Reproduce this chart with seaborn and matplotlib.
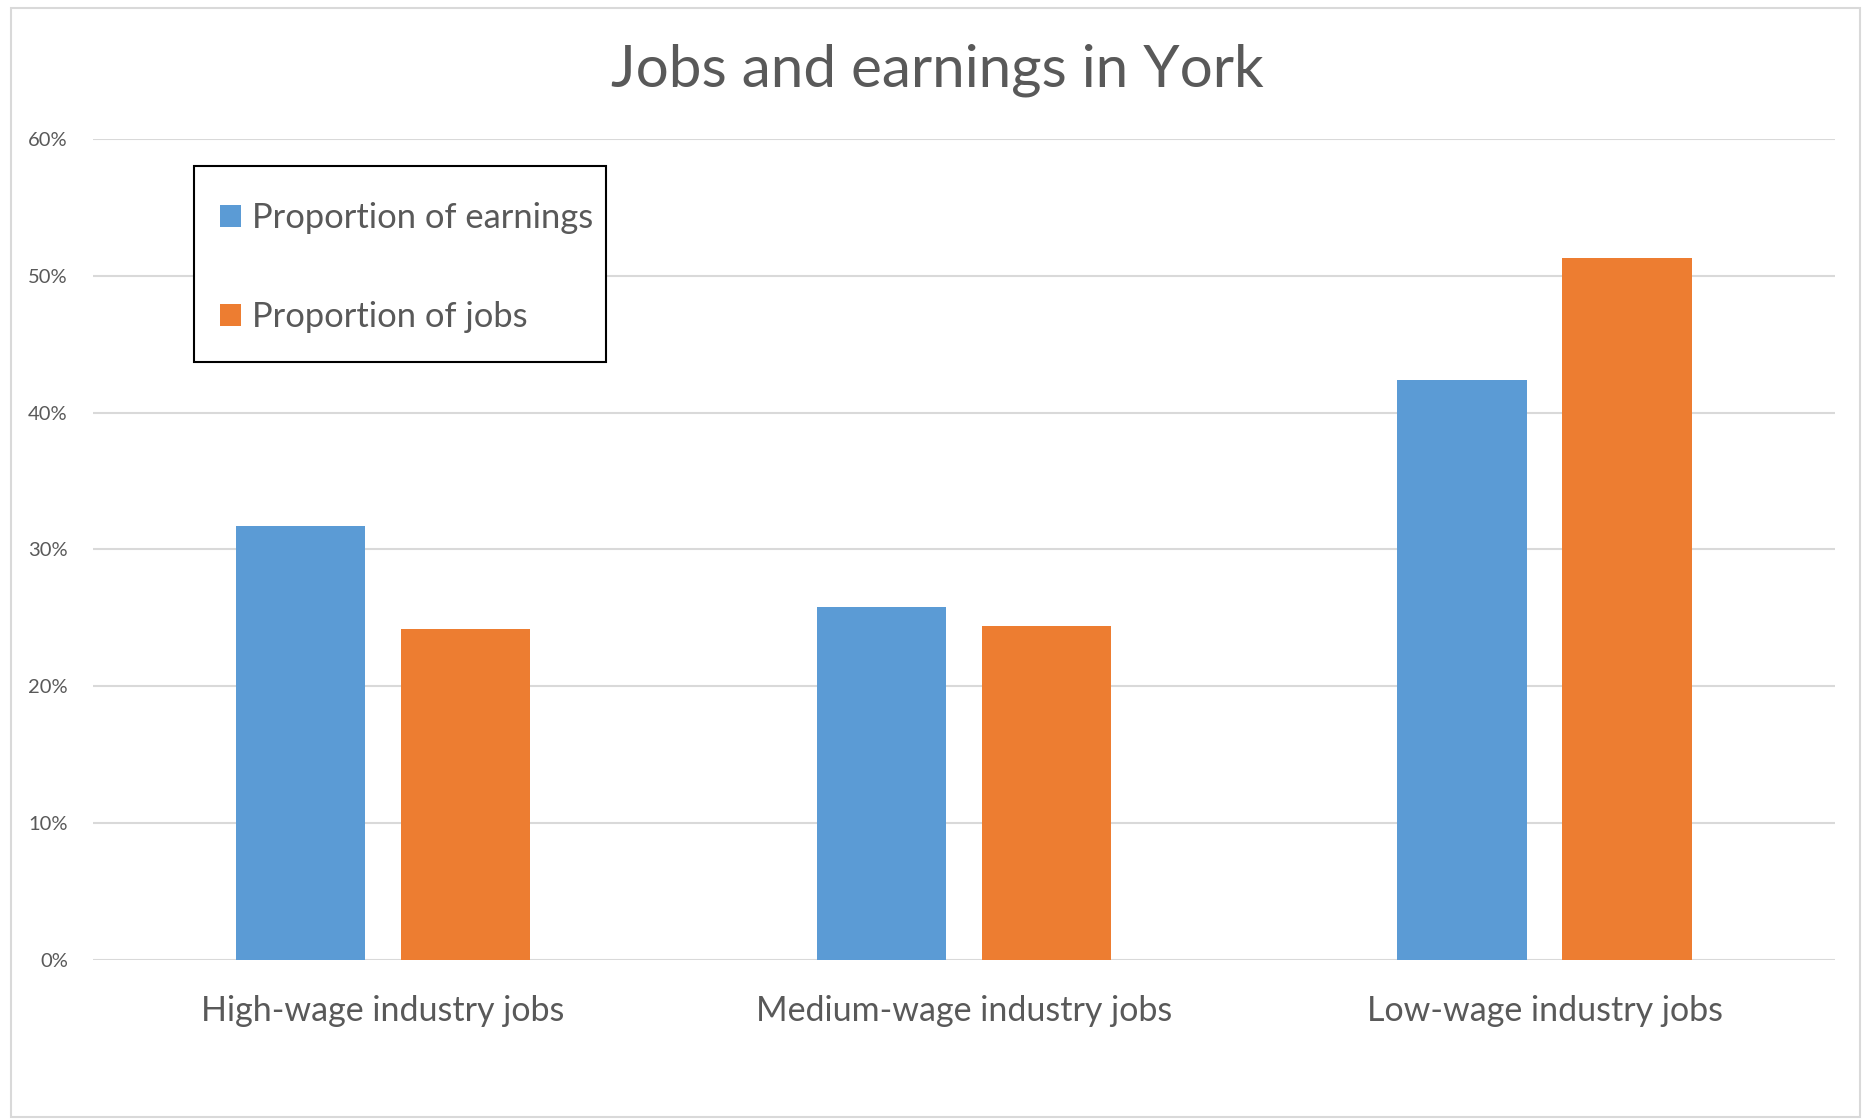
import matplotlib
matplotlib.use("Agg")
import matplotlib.pyplot as plt
import seaborn as sns
import pandas as pd
from matplotlib.patches import Rectangle, Patch
from matplotlib.ticker import FuncFormatter

categories = ["High-wage industry jobs", "Medium-wage industry jobs", "Low-wage industry jobs"]
series_names = ["Proportion of earnings", "Proportion of jobs"]
earnings = [31.7, 25.8, 42.4]
jobs = [24.2, 24.4, 51.3]
title = "Jobs and earnings in York"
yticks = [0, 10, 20, 30, 40, 50, 60]

df = pd.DataFrame({
    "category": categories * 2,
    "series": [series_names[0]] * 3 + [series_names[1]] * 3,
    "value": earnings + jobs,
})

sns.set_theme(style="white")
plt.rcParams["font.family"] = ["Lato", "DejaVu Sans"]
text_color = "#595959"
colors = ["#5B9BD5", "#ED7D31"]

fig = plt.figure(figsize=(18.63, 11.2), dpi=100)
fig.patch.set_facecolor("white")
ax = fig.add_axes([0.0498, 0.1429, 0.985 - 0.0498, 0.876 - 0.1429])

sns.barplot(data=df, x="category", y="value", hue="series", order=categories,
            hue_order=series_names, palette=colors, width=0.568, gap=0.215,
            saturation=1, ax=ax, legend=False, edgecolor="none", linewidth=0)

ax.set_ylim(0, 60)
ax.set_xlim(-0.5, 2.5)
ax.set_yticks(yticks)
ax.yaxis.set_major_formatter(FuncFormatter(lambda v, p: f"{int(v)}%"))
ax.grid(axis="y", color="#d9d9d9", linewidth=1.5)
ax.set_axisbelow(True)
for s in ax.spines.values():
    s.set_visible(False)
ax.tick_params(axis="y", labelsize=14.5, colors=text_color, length=0, pad=18)
ax.tick_params(axis="x", labelsize=24.5, colors=text_color, length=0, pad=25)
ax.set_xlabel("")
ax.set_ylabel("")

fig.text(0.503, 0.937, title, ha="center", va="center", fontsize=42, color=text_color)

# legend box
fig.patches.append(Rectangle((194 / 1863, 1 - 362 / 1120), 412 / 1863, 196 / 1120,
                             transform=fig.transFigure, fill=True, facecolor="white",
                             edgecolor="black", linewidth=1.5, zorder=5))

handles = [Patch(facecolor=c, edgecolor="none") for c in colors]
leg = fig.legend(handles, series_names, loc="upper left", bbox_to_anchor=(0.1181, 0.8196),
                 bbox_transform=fig.transFigure, borderaxespad=0, frameon=False,
                 fontsize=24.8, handlelength=0.62, handleheight=0.62, handletextpad=0.3,
                 labelspacing=1.95, borderpad=0, labelcolor=text_color)
leg.set_zorder(6)

fig.patches.append(Rectangle((11 / 1863, 3 / 1120), (1860 - 11) / 1863, (1112 - 3) / 1120,
                             transform=fig.transFigure, fill=False, edgecolor="#d9d9d9",
                             linewidth=1.5, zorder=-1))

fig.savefig("out.png", dpi=100)
